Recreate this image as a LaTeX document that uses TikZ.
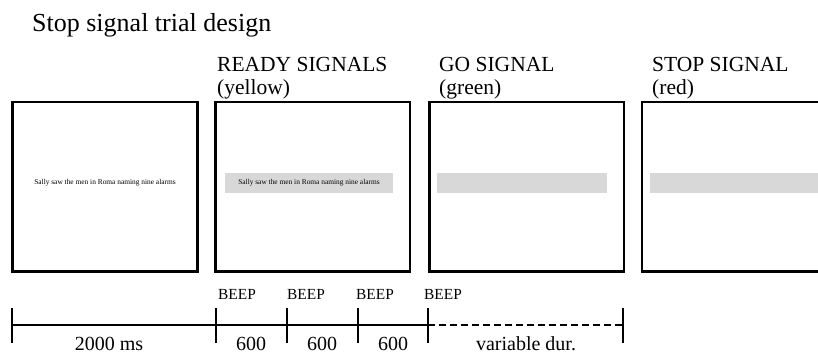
\documentclass[tikz,border=0pt]{standalone}
\usepackage{fontspec}
\setmainfont{Liberation Serif}
\definecolor{bargray}{RGB}{216,216,216}
\tikzset{
  screen/.style={draw=black, line width=2.8pt, fill=white},
  bar/.style={fill=bargray, draw=none},
  head/.style={anchor=base west, inner sep=0pt, font=\fontsize{21.5}{25}\selectfont, align=left},
  beep/.style={anchor=base west, inner sep=0pt, font=\fontsize{15.4}{18}\selectfont},
  dur/.style={anchor=base, inner sep=0pt, font=\fontsize{20}{24}\selectfont},
  sally/.style={inner sep=0pt, font=\fontsize{7.4}{9}\selectfont},
  axis/.style={line width=2pt},
  tick/.style={line width=2pt},
  dashaxis/.style={line width=2pt, dash pattern=on 7pt off 4pt}
}
\begin{document}
\begin{tikzpicture}[x=1pt,y=-1pt]
\clip (0,0) rectangle (818,353);
\fill[white] (0,0) rectangle (818,353);
% title
\node[anchor=base west, inner sep=0pt, font=\fontsize{26}{30}\selectfont] (title) at (32,32) {Stop signal trial design};
% headers
\node[head] (hready) at (217,71) {READY SIGNALS};
\node[head] (hyellow) at (217,94.5) {(yellow)};
\node[head] (hgo) at (439,71) {GO SIGNAL};
\node[head] (hgreen) at (439,94.5) {(green)};
\node[head] (hstop) at (652,71) {STOP SIGNAL};
\node[head] (hred) at (652,94.5) {(red)};
% screens
\draw[screen] (12.5,102) rectangle (197.5,271.5);
\draw[screen] (215.5,102) rectangle (410,271.5);
\draw[screen, line width=2.4pt] (429.5,102) rectangle (624,271.5);
\draw[screen, line width=2.4pt] (642,102) rectangle (840,271.5);
% gray bars
\fill[bar] (225,173) rectangle (393,193);
\fill[bar] (437,173) rectangle (607,193);
\fill[bar] (650,173) rectangle (830,193);
% sentences
\node[sally] (s1) at (105,183) {Sally saw the men in Roma naming nine alarms};
\node[sally] (s2) at (309,183) {Sally saw the men in Roma naming nine alarms};
% timeline
\coordinate (t0) at (12,325);
\coordinate (t1) at (216,325);
\coordinate (t2) at (287,325);
\coordinate (t3) at (358,325);
\coordinate (t4) at (428,325);
\coordinate (t5) at (623,325);
\draw[axis] (t0) -- (t4);
\draw[dashaxis] (t4) -- (t5);
\foreach \t in {t0,t1,t2,t3,t4,t5}{
  \draw[tick] ([yshift=-18pt]\t) -- ([yshift=17pt]\t);
}
% beeps
\node[beep] (b1) at (218,299) {BEEP};
\node[beep] (b2) at (287,299) {BEEP};
\node[beep] (b3) at (356,299) {BEEP};
\node[beep] (b4) at (424,299) {BEEP};
% durations
\node[dur] (d0) at (109,350) {2000 ms};
\node[dur] (d1) at (251,350) {600};
\node[dur] (d2) at (322,350) {600};
\node[dur] (d3) at (393,350) {600};
\node[dur] (d4) at (526,350) {variable dur.};
\end{tikzpicture}
\end{document}
